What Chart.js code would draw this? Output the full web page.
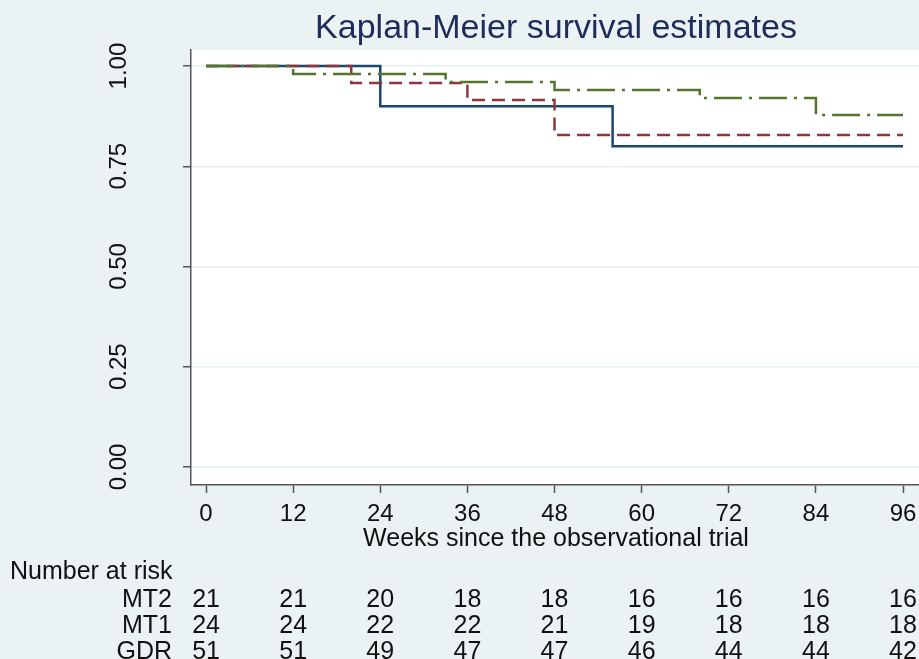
<!DOCTYPE html>
<html>
<head>
<meta charset="utf-8">
<script src="https://cdn.jsdelivr.net/npm/chart.js@4.4.0/dist/chart.umd.min.js"></script>
<style>
  html, body { margin: 0; padding: 0; background: #eaf2f3; }
</style>
</head>
<body>
<canvas id="km" width="919" height="659"></canvas>
<script>
const weekTicks = [0, 12, 24, 36, 48, 60, 72, 84, 96];
const survTicks = [0, 0.25, 0.5, 0.75, 1];

// step points: week where the estimate changes, and the new estimate
const mt2Weeks = [0, 24, 56, 96];
const mt2Surv = [1, 0.9, 0.8, 0.8];
const mt1Weeks = [0, 20, 36, 48, 96];
const mt1Surv = [1, 0.958, 0.915, 0.828, 0.828];
const gdrWeeks = [0, 12, 33, 48, 68, 84, 96];
const gdrSurv = [1, 0.98, 0.96, 0.94, 0.92, 0.878, 0.878];

const riskGroups = ["MT2", "MT1", "GDR"];
const mt2Risk = [21, 21, 20, 18, 18, 16, 16, 16, 16];
const mt1Risk = [24, 24, 22, 22, 21, 19, 18, 18, 18];
const gdrRisk = [51, 51, 49, 47, 47, 46, 44, 44, 42];

const FONT = "'Liberation Sans', Arial, sans-serif";

function pts(weeks, surv) {
    return weeks.map((w, i) => ({ x: w, y: surv[i] }));
}

const kmExtras = {
    id: "kmExtras",
    beforeDraw(chart) {
        const ctx = chart.ctx, a = chart.chartArea;
        ctx.save();
        ctx.fillStyle = "#eaf2f3";
        ctx.fillRect(0, 0, chart.width, chart.height);
        ctx.fillStyle = "#ffffff";
        ctx.fillRect(a.left, a.top, a.right - a.left, a.bottom - a.top);
        ctx.restore();
    },
    afterDraw(chart) {
        const ctx = chart.ctx;
        const xs = chart.scales.x, ys = chart.scales.y;
        ctx.save();

        ctx.fillStyle = "#1e2c5c";
        ctx.font = "34px " + FONT;
        ctx.textAlign = "center";
        ctx.fillText("Kaplan-Meier survival estimates", 556, 38);

        ctx.fillStyle = "#111111";
        ctx.font = "24px " + FONT;
        survTicks.forEach(v => {
            ctx.save();
            ctx.translate(126, ys.getPixelForValue(v));
            ctx.rotate(-Math.PI / 2);
            ctx.textAlign = "center";
            ctx.fillText(v.toFixed(2), 0, 0);
            ctx.restore();
        });

        ctx.font = "25px " + FONT;
        ctx.textAlign = "center";
        ctx.fillText("Weeks since the observational trial", 556, 546);

        ctx.textAlign = "left";
        ctx.fillText("Number at risk", 10, 579);

        const rows = [mt2Risk, mt1Risk, gdrRisk];
        rows.forEach((row, r) => {
            const yy = 607 + r * 26;
            ctx.textAlign = "right";
            ctx.fillText(riskGroups[r], 172, yy);
            ctx.textAlign = "center";
            row.forEach((n, i) => {
                ctx.fillText(String(n), xs.getPixelForValue(weekTicks[i]), yy);
            });
        });
        ctx.restore();
    }
};

new Chart(document.getElementById("km"), {
    type: "line",
    data: {
        datasets: [
            {
                label: "GDR",
                data: pts(gdrWeeks, gdrSurv),
                borderColor: "#55752f",
                borderDash: [28, 7, 3, 7],
                borderWidth: 2.5,
                stepped: "before",
                pointRadius: 0,
                fill: false
            },
            {
                label: "MT1",
                data: pts(mt1Weeks, mt1Surv),
                borderColor: "#90353b",
                borderDash: [13, 7],
                borderWidth: 2.5,
                stepped: "before",
                pointRadius: 0,
                fill: false
            },
            {
                label: "MT2",
                data: pts(mt2Weeks, mt2Surv),
                borderColor: "#1a476f",
                borderWidth: 2.5,
                stepped: "before",
                pointRadius: 0,
                fill: false
            }
        ]
    },
    options: {
        responsive: false,
        animation: false,
        layout: { padding: { top: 50, left: 0, right: 0, bottom: 0 } },
        plugins: {
            legend: { display: false },
            tooltip: { enabled: false }
        },
        scales: {
            x: {
                type: "linear",
                min: -2.07,
                max: 98.2,
                afterBuildTicks: s => { s.ticks = weekTicks.map(v => ({ value: v })); },
                afterFit: s => {
                    s.height = 174;
                    s.paddingLeft = 0;
                    s.paddingRight = 0;
                },
                ticks: {
                    font: { family: FONT, size: 24 },
                    color: "#111111",
                    padding: 7,
                    maxRotation: 0,
                    autoSkip: false
                },
                grid: {
                    drawOnChartArea: false,
                    tickLength: 8,
                    tickColor: "#555555",
                    tickWidth: 1.5
                },
                border: { color: "#555555", width: 1.5 }
            },
            y: {
                type: "linear",
                min: -0.045,
                max: 1.04,
                afterBuildTicks: s => { s.ticks = survTicks.map(v => ({ value: v })); },
                afterFit: s => { s.width = 191; },
                ticks: { display: false },
                grid: {
                    color: "#e4edef",
                    lineWidth: 1.5,
                    tickLength: 8,
                    tickColor: "#555555",
                    tickWidth: 1.5
                },
                border: { color: "#555555", width: 1.5 }
            }
        }
    },
    plugins: [kmExtras]
});
</script>
</body>
</html>
